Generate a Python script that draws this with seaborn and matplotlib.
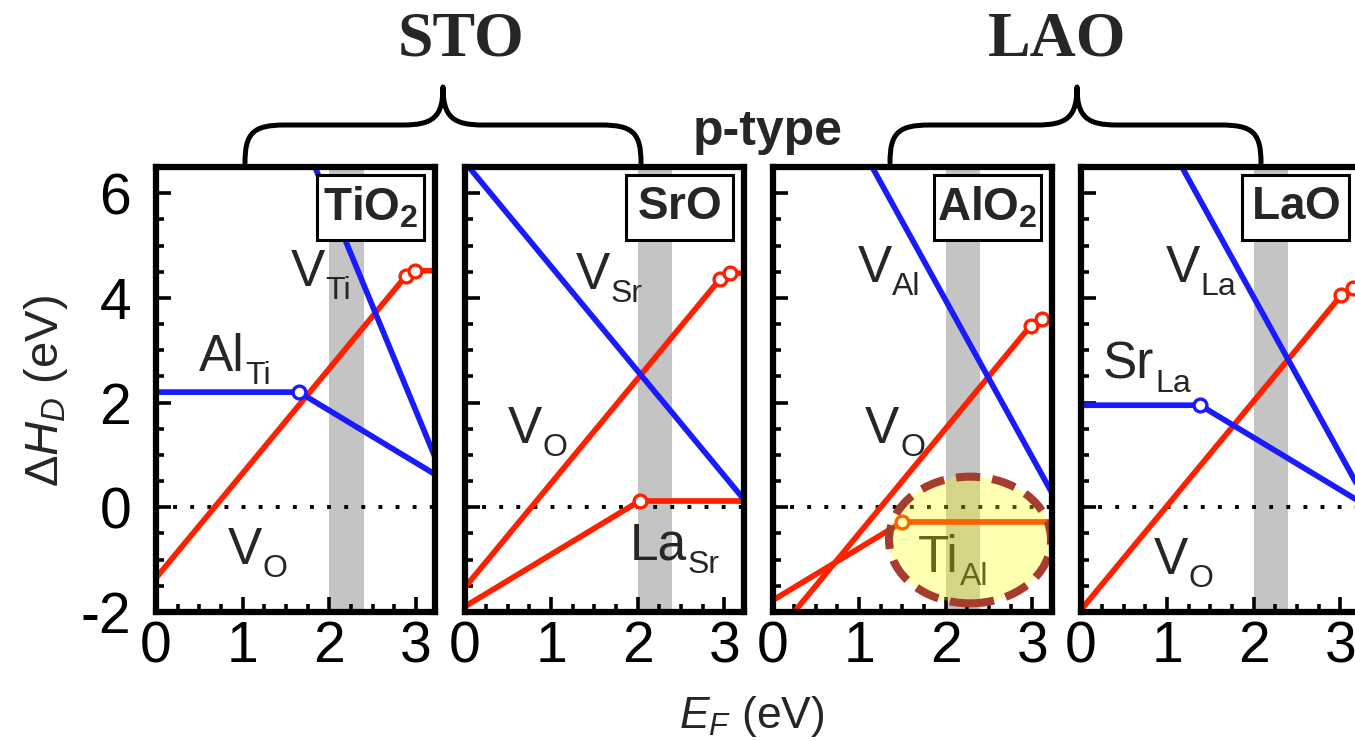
import matplotlib
matplotlib.use('Agg')
import matplotlib.pyplot as plt
import seaborn as sns
from matplotlib import font_manager
from matplotlib.patches import Rectangle, Ellipse, PathPatch
from matplotlib.path import Path
from matplotlib.ticker import MultipleLocator

sns.set_theme(style='ticks')
names = {f.name for f in font_manager.fontManager.ttflist}
NARROW = 'Liberation Sans Narrow' if 'Liberation Sans Narrow' in names else 'Liberation Sans'
plt.rcParams['font.family'] = [NARROW, 'DejaVu Sans']
plt.rcParams['axes.unicode_minus'] = False
plt.rcParams['mathtext.fontset'] = 'custom'
plt.rcParams['mathtext.rm'] = NARROW
plt.rcParams['mathtext.it'] = NARROW + ':italic'
plt.rcParams['mathtext.bf'] = NARROW + ':bold'

# ---------------- data ----------------
panel_titles = [r'$\mathbf{TiO_2}$', r'$\mathbf{SrO}$', r'$\mathbf{AlO_2}$', r'$\mathbf{LaO}$']
x_ticks = [0, 1, 2, 3]
y_ticks = [-2, 0, 2, 4, 6]
band_lo, band_hi = 2.0, 2.4

# TiO2 termination (STO)
tio2_VO_x = [0.0, 2.88, 2.99, 3.22]
tio2_VO_y = [-1.35, 4.41, 4.52, 4.52]
tio2_AlTi_x = [0.0, 1.65, 3.22]
tio2_AlTi_y = [2.2, 2.2, 0.63]
tio2_VTi_x = [1.835, 3.22]
tio2_VTi_y = [6.5, 0.96]

# SrO termination (STO)
sro_VO_x = [0.0, 2.95, 3.06, 3.22]
sro_VO_y = [-1.54, 4.36, 4.47, 4.47]
sro_LaSr_x = [0.0, 2.02, 3.22]
sro_LaSr_y = [-1.9, 0.12, 0.12]
sro_VSr_x = [0.05, 3.22]
sro_VSr_y = [6.5, 0.16]

# AlO2 termination (LAO)
alo2_VO_x = [0.25, 2.98, 3.11, 3.22]
alo2_VO_y = [-2.0, 3.47, 3.60, 3.60]
alo2_TiAl_x = [0.0, 1.5, 3.22]
alo2_TiAl_y = [-1.78, -0.28, -0.28]
alo2_VAl_x = [1.15, 3.22]
alo2_VAl_y = [6.5, 0.29]

# LaO termination (LAO)
lao_VO_x = [0.0, 3.01, 3.15, 3.22]
lao_VO_y = [-1.97, 4.05, 4.19, 4.19]
lao_SrLa_x = [0.0, 1.38, 3.22]
lao_SrLa_y = [1.95, 1.95, 0.11]
lao_VLa_x = [1.17, 3.22]
lao_VLa_y = [6.5, 0.35]

RED = '#ff2000'
BLUE = '#1a1aff'

series = [
    [(tio2_VO_x, tio2_VO_y, RED), (tio2_AlTi_x, tio2_AlTi_y, BLUE), (tio2_VTi_x, tio2_VTi_y, BLUE)],
    [(sro_VO_x, sro_VO_y, RED), (sro_LaSr_x, sro_LaSr_y, RED), (sro_VSr_x, sro_VSr_y, BLUE)],
    [(alo2_VO_x, alo2_VO_y, RED), (alo2_TiAl_x, alo2_TiAl_y, RED), (alo2_VAl_x, alo2_VAl_y, BLUE)],
    [(lao_VO_x, lao_VO_y, RED), (lao_SrLa_x, lao_SrLa_y, BLUE), (lao_VLa_x, lao_VLa_y, BLUE)],
]

# defect labels: (x, y, main, subscript)
labels = [
    [(1.55, 4.22, 'V', 'Ti'), (0.49, 2.61, 'Al', 'Ti'), (0.83, -1.08, 'V', 'O')],
    [(1.28, 4.17, 'V', 'Sr'), (0.50, 1.23, 'V', 'O'), (1.91, -1.0, 'La', 'Sr')],
    [(0.98, 4.30, 'V', 'Al'), (1.07, 1.23, 'V', 'O'), (1.68, -1.23, 'Ti', 'Al')],
    [(0.98, 4.30, 'V', 'La'), (0.26, 2.46, 'Sr', 'La'), (0.84, -1.27, 'V', 'O')],
]

# ---------------- figure ----------------
W, H = 1355, 741
fig = plt.figure(figsize=(W / 100, H / 100), dpi=100)
fig.patch.set_facecolor('white')

lefts_px = [156, 464.5, 772.5, 1080.5]
width_px = 279
bottom_px, top_px = 612, 167

axes = []
for i, lp in enumerate(lefts_px):
    ax = fig.add_axes([lp / W, 1 - bottom_px / H, width_px / W, (bottom_px - top_px) / H])
    ax.set_facecolor('white')
    ax.axvspan(band_lo, band_hi, color='#c4c4c4', lw=0, zorder=0)
    ax.axhline(0, color='black', ls=(0, (1, 3.4)), linewidth=2.8, zorder=1)
    for xs, ys, c in series[i]:
        n_before = len(ax.lines)
        sns.lineplot(x=xs, y=ys, ax=ax, color=c, linewidth=4.1, sort=False, zorder=2)
        for ln in ax.lines[n_before:]:
            ln.set_linewidth(4.1)
            ln.set_solid_capstyle('round')
        if len(xs) > 2:
            sns.scatterplot(x=xs[1:-1], y=ys[1:-1], ax=ax, s=85, facecolor='white',
                            edgecolor=c, linewidth=2.4, zorder=3)
    for (lx, ly, main, sub) in labels[i]:
        t = ax.text(lx, ly, main, fontsize=37, va='baseline', ha='left', zorder=4)
        ax.annotate(sub, xy=(1, 0), xycoords=t, xytext=(0.5, -1.5), textcoords='offset points',
                    fontsize=23, va='baseline', ha='left', zorder=4)
    # termination label box
    ax.add_patch(Rectangle((0.578, 0.836), 0.383, 0.146, transform=ax.transAxes,
                           facecolor='white', edgecolor='black', lw=2.2, zorder=5))
    ax.text(0.578 + 0.383 / 2, 0.836 + 0.146 / 2, panel_titles[i], transform=ax.transAxes,
            ha='center', va='center', fontsize=33, zorder=6)

    ax.set_xticks(x_ticks)
    ax.set_xticklabels([str(v) for v in x_ticks])
    ax.set_yticks(y_ticks)
    ax.set_yticklabels([str(v) for v in y_ticks])
    ax.xaxis.set_minor_locator(MultipleLocator(0.25))
    ax.yaxis.set_minor_locator(MultipleLocator(0.5))
    ax.set_xlim(0, 3.22)
    ax.set_ylim(-2, 6.5)
    ax.tick_params(which='both', direction='in', top=False, right=False, color='black',
                   labelcolor='black')
    ax.tick_params(which='major', length=11, width=2.6, labelsize=41)
    ax.tick_params(which='minor', length=5.5, width=2.6)
    ax.tick_params(axis='x', which='major', pad=6)
    ax.tick_params(axis='y', which='major', pad=18)
    if i > 0:
        ax.tick_params(labelleft=False)
    for sp in ax.spines.values():
        sp.set_visible(True)
        sp.set_linewidth(4.5)
        sp.set_color('black')
        sp.set_zorder(7)
    ax.set_xlabel('')
    ax.set_ylabel('')
    axes.append(ax)

# highlighted Ti_Al region
axes[2].add_patch(Ellipse((2.28, -0.625), 1.87, 2.42, facecolor=(1, 1, 0, 0.3),
                          edgecolor='#a53c2d', lw=5.8, ls=(0, (3, 1.5)), clip_on=False, zorder=6))

# axis titles
fig.text(46 / W, 1 - 391 / H, r'$\Delta \mathit{H}_\mathit{D}$ (eV)', rotation=90,
         ha='center', va='center', fontsize=34)
fig.text(752 / W, 1 - 728 / H, r'$\mathit{E}_\mathit{F}$ (eV)', ha='center', va='baseline', fontsize=32)

# top annotations
fig.text(461 / W, 1 - 55 / H, 'STO', family='Liberation Serif', weight='bold', fontsize=46,
         ha='center', va='baseline')
fig.text(1057 / W, 1 - 55 / H, 'LAO', family='Liberation Serif', weight='bold', fontsize=46,
         ha='center', va='baseline')
fig.text(768 / W, 1 - 145 / H, 'p-type', family='Liberation Sans', weight='bold', fontsize=36,
         ha='center', va='baseline')


def brace(x0, x1, xt, ybar, yend, ytip):
    def P(x, y):
        return (x / W, 1 - y / H)
    r = 40
    verts = [P(x0, yend),
             P(x0, ybar + 8), P(x0 + 8, ybar), P(x0 + r, ybar),
             P(xt - r, ybar),
             P(xt - 10, ybar), P(xt, ybar - 8), P(xt, ytip),
             P(xt, ybar - 8), P(xt + 10, ybar), P(xt + r, ybar),
             P(x1 - r, ybar),
             P(x1 - 8, ybar), P(x1, ybar + 8), P(x1, yend)]
    codes = [Path.MOVETO,
             Path.CURVE4, Path.CURVE4, Path.CURVE4,
             Path.LINETO,
             Path.CURVE4, Path.CURVE4, Path.CURVE4,
             Path.CURVE4, Path.CURVE4, Path.CURVE4,
             Path.LINETO,
             Path.CURVE4, Path.CURVE4, Path.CURVE4]
    fig.patches.append(PathPatch(Path(verts, codes), transform=fig.transFigure, fill=False,
                                 lw=3.6, edgecolor='black', capstyle='round', joinstyle='round'))


brace(245, 641, 443, 125, 163, 87)
brace(890, 1261, 1077, 125, 163, 87)

fig.savefig('out.png', dpi=100)
